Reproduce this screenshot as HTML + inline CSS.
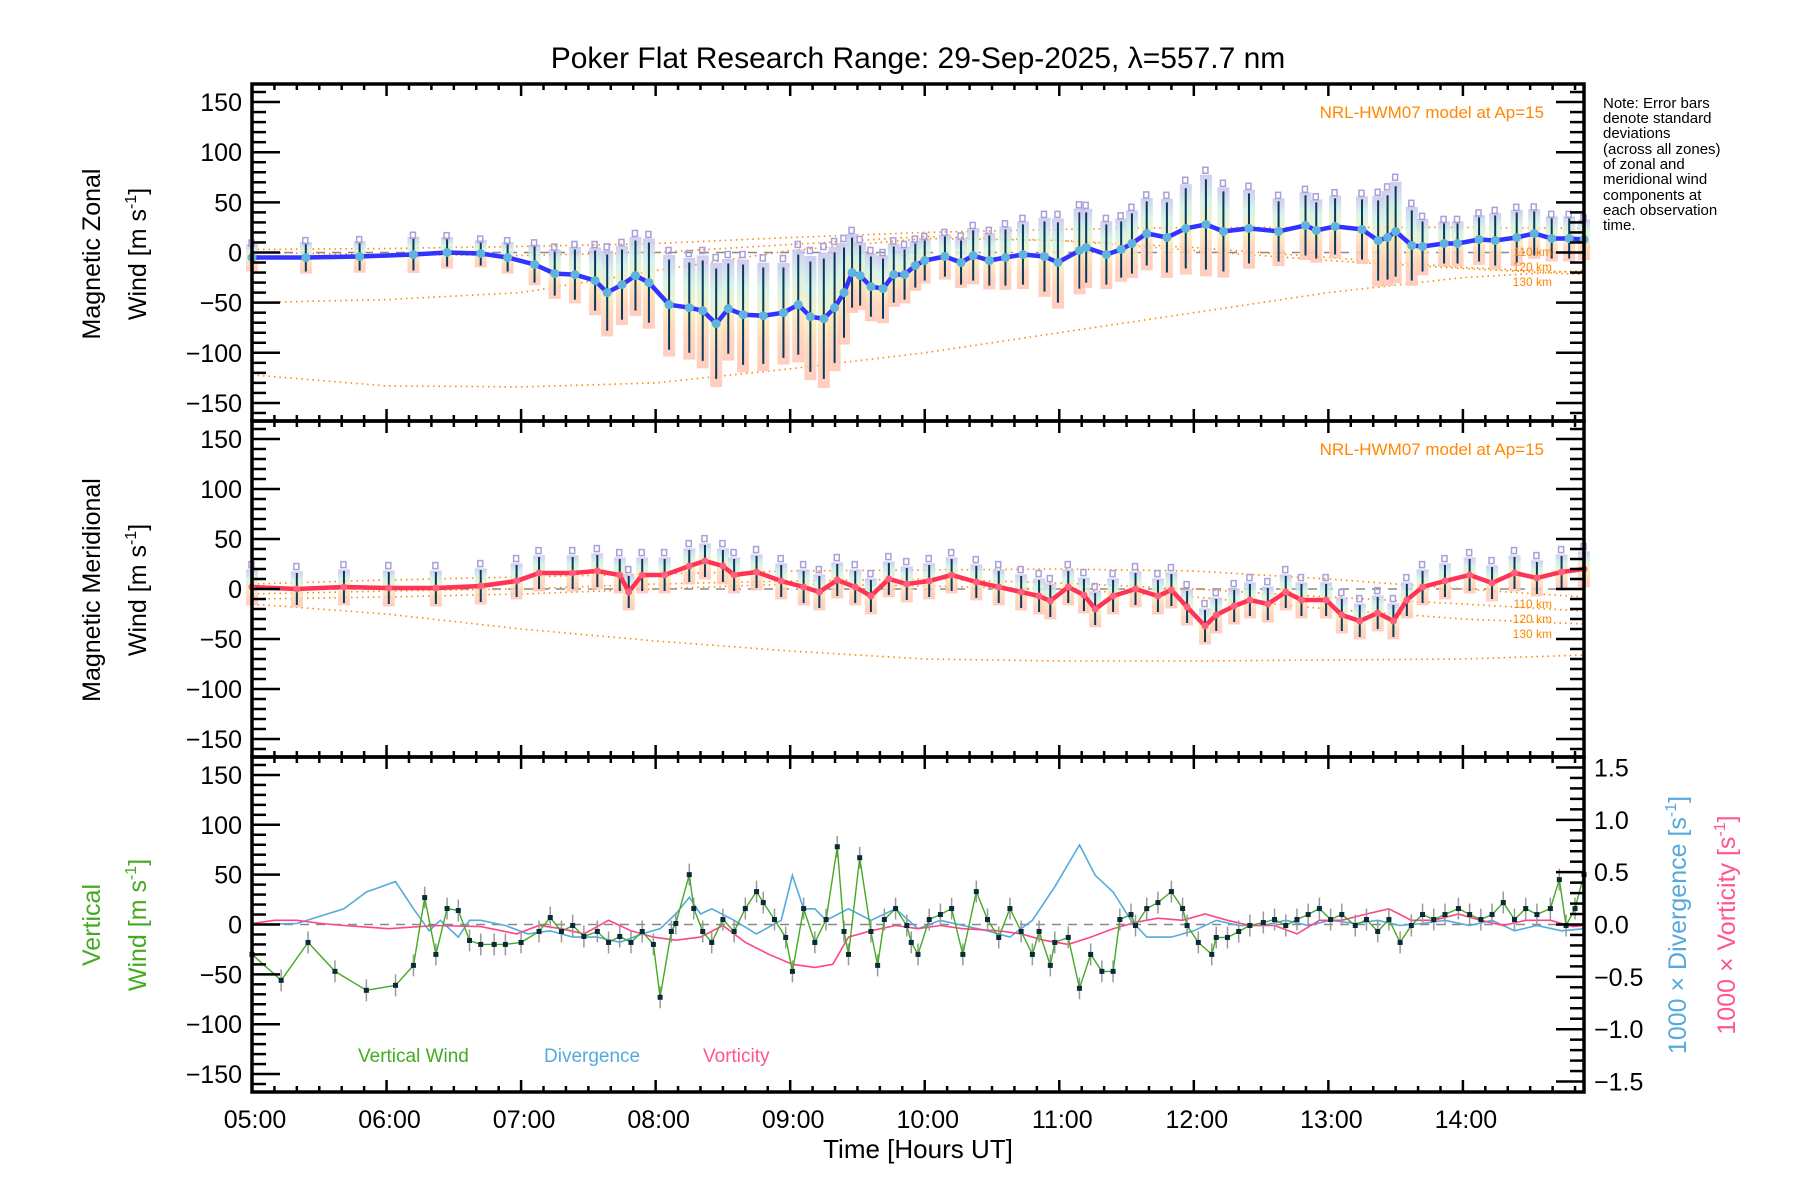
<!DOCTYPE html>
<html><head><meta charset="utf-8"><style>
html,body{margin:0;padding:0;background:#fff;}
svg{display:block;font-family:"Liberation Sans","DejaVu Sans",sans-serif;}
</style></head><body>
<svg id="chart" width="1800" height="1200" viewBox="0 0 1800 1200" xmlns="http://www.w3.org/2000/svg">
<defs>
<linearGradient id="zoneGrad" x1="0" y1="0" x2="0" y2="1">
<stop offset="0" stop-color="#c8c4ee"/><stop offset="0.25" stop-color="#d0f2e4"/><stop offset="0.5" stop-color="#f8eeb8"/><stop offset="0.75" stop-color="#ffd0b4"/><stop offset="1" stop-color="#ffc4b4"/>
</linearGradient>
</defs>
<text x="918" y="68" font-size="30" text-anchor="middle" fill="#000">Poker Flat Research Range: 29-Sep-2025, λ=557.7 nm</text>
<g id="layer"></g>
<g font-size="15" fill="#000">
<text x="1603" y="108">Note: Error bars</text>
<text x="1603" y="123">denote standard</text>
<text x="1603" y="138">deviations</text>
<text x="1603" y="154">(across all zones)</text>
<text x="1603" y="169">of zonal and</text>
<text x="1603" y="184">meridional wind</text>
<text x="1603" y="200">components at</text>
<text x="1603" y="215">each observation</text>
<text x="1603" y="230">time.</text>
</g>
<text x="918" y="1158" font-size="26" text-anchor="middle">Time [Hours UT]</text>
<text transform="translate(100,254) rotate(-90)" font-size="25" text-anchor="middle">Magnetic Zonal</text>
<text transform="translate(146,254) rotate(-90)" font-size="25" text-anchor="middle">Wind [m s<tspan font-size="16" dy="-10">-1</tspan><tspan dy="10">]</tspan></text>
<text transform="translate(100,590) rotate(-90)" font-size="25" text-anchor="middle">Magnetic Meridional</text>
<text transform="translate(146,590) rotate(-90)" font-size="25" text-anchor="middle">Wind [m s<tspan font-size="16" dy="-10">-1</tspan><tspan dy="10">]</tspan></text>
<text transform="translate(100,925) rotate(-90)" font-size="25" text-anchor="middle" fill="#44aa22">Vertical</text>
<text transform="translate(146,925) rotate(-90)" font-size="25" text-anchor="middle" fill="#44aa22">Wind [m s<tspan font-size="16" dy="-10">-1</tspan><tspan dy="10">]</tspan></text>
<text transform="translate(1686,925) rotate(-90)" font-size="25" text-anchor="middle" fill="#55aadd">1000 × Divergence [s<tspan font-size="16" dy="-10">-1</tspan><tspan dy="10">]</tspan></text>
<text transform="translate(1735,925) rotate(-90)" font-size="25" text-anchor="middle" fill="#ff5590">1000 × Vorticity [s<tspan font-size="16" dy="-10">-1</tspan><tspan dy="10">]</tspan></text>
<text x="1544" y="118" font-size="17" text-anchor="end" fill="#ff8800">NRL-HWM07 model at Ap=15</text>
<text x="1544" y="455" font-size="17" text-anchor="end" fill="#ff8800">NRL-HWM07 model at Ap=15</text>
<g font-size="12" fill="#ff8800" text-anchor="end">
<text x="1552" y="256">110 km</text>
<text x="1552" y="271">120 km</text>
<text x="1552" y="286">130 km</text>
<text x="1552" y="608">110 km</text>
<text x="1552" y="623">120 km</text>
<text x="1552" y="638">130 km</text>
</g>
<g font-size="19">
<text x="358" y="1062" fill="#44aa22">Vertical Wind</text>
<text x="544" y="1062" fill="#55aadd">Divergence</text>
<text x="703" y="1062" fill="#ff5590">Vorticity</text>
</g>
</svg>
<script>
// ---- data ----
const xTickLabels = ["05:00","06:00","07:00","08:00","09:00","10:00","11:00","12:00","13:00","14:00"];
const yTickLabels = [150,100,50,0,-50,-100,-150];
const rTickLabels = [1.5,1.0,0.5,0.0,-0.5,-1.0,-1.5];
// zonal: hours after 05:00
const zonalTime = [0,0.4,0.8,1.2,1.45,1.7,1.9,2.1,2.25,2.4,2.55,2.64,2.75,2.85,2.95,3.1,3.25,3.35,3.45,3.54,3.65,3.8,3.95,4.06,4.15,4.25,4.33,4.4,4.46,4.52,4.6,4.69,4.77,4.85,4.93,5.0,5.15,5.27,5.36,5.48,5.6,5.73,5.89,5.99,6.15,6.2,6.35,6.46,6.54,6.65,6.8,6.94,7.09,7.22,7.41,7.63,7.83,7.91,8.05,8.25,8.37,8.44,8.5,8.62,8.7,8.86,8.96,9.12,9.24,9.4,9.53,9.66,9.79,9.9];
const zonalWind = [-5,-5,-4,-2,0,-1,-5,-12,-21,-22,-28,-40,-32,-23,-30,-52,-55,-58,-71,-56,-62,-63,-60,-52,-64,-66,-55,-40,-20,-23,-34,-36,-22,-22,-13,-8,-4,-10,-3,-8,-5,-2,-4,-10,2,5,-2,3,9,19,15,24,28,21,24,21,27,22,26,23,12,15,21,7,6,9,9,13,12,15,19,14,14,13];
const zonalSd = [12,14,14,16,14,12,14,18,22,25,30,38,35,35,40,45,45,50,55,45,50,48,45,50,55,60,55,45,35,30,30,30,28,25,22,20,20,22,25,25,28,30,35,40,38,35,30,28,30,32,35,40,45,40,35,30,30,28,28,30,40,42,45,35,25,20,20,22,25,25,22,20,20,18];
// meridional: minutes after 05:00
const meridTime = [0,20,41,61,82,102,118,128,143,154,164,168,174,184,195,202,210,215,225,236,246,253,261,269,276,284,292,302,312,323,333,343,351,356,364,371,376,384,394,404,410,417,425,430,438,445,453,461,468,479,486,494,502,509,515,522,532,543,553,563,573,584,594];
const meridWind = [2,0,2,1,1,3,8,16,16,18,14,-3,14,14,23,28,23,14,17,8,2,-3,9,2,-7,10,5,8,14,7,2,-3,-7,-12,2,-6,-20,-7,0,-7,-1,-18,-37,-26,-17,-11,-15,-3,-11,-11,-26,-32,-24,-32,-11,2,8,14,6,16,11,17,20];
const meridSd = 16;
// model curves (hours, value)
const modelTime = [0,1,2,3,4,5,6,7,8,9,9.9];
const zonalModel110 = [3,4,6,9,15,20,23,25,25,25,24];
const zonalModel120 = [0,-2,-3,0,8,16,12,5,-5,-15,-20];
const zonalModel130 = [-50,-47,-40,-18,2,14,12,2,-8,-16,-22];
const zonalModelLow = [-122,-133,-134,-130,-116,-100,-80,-60,-40,-25,-18];
const meridModel110 = [5,9,12,15,18,19,20,18,10,0,-8];
const meridModel120 = [-5,-2,0,5,8,10,6,0,-8,-15,-22];
const meridModel130 = [-10,-8,-5,0,5,3,0,-8,-20,-30,-35];
const meridModelLow = [-15,-25,-40,-52,-62,-70,-72,-72,-71,-70,-66];
// vertical wind: minutes after 05:00
const vertTime = [0,13,25,37,51,64,72,77,82,87,92,97,102,108,113,120,128,133,138,143,148,154,159,164,169,174,179,182,187,189,195,197,201,205,210,215,220,225,228,233,238,241,246,251,256,261,264,266,271,276,279,282,287,292,294,297,302,307,312,317,323,328,333,338,343,348,351,356,358,364,369,374,379,384,387,392,394,399,404,410,415,417,422,428,430,435,440,445,451,456,461,466,471,476,481,486,492,497,502,507,512,517,522,527,532,538,543,548,553,558,563,568,573,579,583,586,590,594];
const vertWind = [-30,-56,-18,-47,-66,-61,-41,27,-30,16,14,-16,-20,-20,-20,-18,-7,7,-7,-1,-12,-7,-18,-12,-18,-7,-20,-73,-7,1,50,16,-7,-18,5,-7,16,33,22,5,-13,-47,16,-18,5,78,-7,-30,67,-7,-41,5,16,-1,-18,-30,5,10,16,-30,33,5,-13,16,-7,-30,-7,-41,-18,-13,-64,-30,-47,-47,5,10,-1,16,22,33,16,-1,-18,-30,-13,-13,-7,-1,2,5,-1,5,10,16,5,10,-1,5,-7,5,-18,-1,10,5,10,16,10,5,10,22,5,16,10,16,45,-1,16,50];
const vertErr = 11;
const divTime = [0,20,41,51,64,72,79,84,92,97,102,113,123,133,143,154,164,174,182,189,195,200,205,215,225,236,241,246,251,256,266,276,287,297,307,317,328,338,348,358,369,376,384,392,399,410,420,430,440,451,461,471,481,492,502,512,522,532,543,553,563,573,584,594];
const divergence = [0,0.01,0.15,0.31,0.41,0.15,-0.06,0.04,-0.12,0.04,0.04,-0.01,-0.09,-0.06,-0.12,-0.12,-0.17,-0.09,-0.04,0.1,0.26,0.1,0.15,0.04,-0.09,0.04,0.47,0.15,0.15,0.04,0.15,0.04,0.15,-0.04,0.04,-0.01,-0.06,-0.12,0.04,0.36,0.76,0.47,0.31,0.04,-0.12,-0.12,-0.06,0.04,-0.01,-0.01,0.04,-0.01,0.04,0.01,0.04,-0.01,0.01,0.04,-0.01,0.04,-0.06,-0.01,-0.06,-0.04];
const vortTime = [0,10,20,31,41,61,82,102,118,128,138,148,159,169,179,189,200,210,220,230,241,251,259,266,276,287,297,307,317,333,343,353,364,374,384,394,404,415,425,435,445,456,466,476,486,497,507,517,527,538,548,558,568,579,589,594];
const vorticity = [0.01,0.04,0.04,0.01,-0.01,-0.04,-0.01,-0.02,-0.09,-0.01,-0.04,-0.09,0.04,-0.06,-0.12,-0.15,-0.12,-0.01,-0.17,-0.28,-0.38,-0.41,-0.38,-0.12,-0.06,-0.01,-0.04,-0.01,-0.04,-0.06,-0.09,-0.15,-0.19,-0.12,-0.04,0.02,0.06,0.04,0.1,0.04,-0.01,-0.01,-0.09,0.04,0.04,0.1,0.15,0.04,0.04,0.1,0.04,-0.01,0.04,0.04,-0.02,-0.01];

// ---- layout ----
const NS = "http://www.w3.org/2000/svg";
const L = 252, R = 1584;
const panels = [{top:84,bot:421},{top:421,bot:757},{top:757,bot:1092}];
const layer = document.getElementById('layer');
function xH(h){ return L + h/9.9*(R-L); }
function xM(m){ return xH(m/60); }
function yP(p, v){ const P = panels[p]; const c=(P.top+P.bot)/2; return c - v*(P.bot-P.top)/336; }
function yR(v){ return yP(2, v*105); }
function mk(tag, attrs, parent){ const e=document.createElementNS(NS,tag); for(const k in attrs) e.setAttribute(k,attrs[k]); (parent||layer).appendChild(e); return e; }
function path(xs, ys, attrs, name){
  let d=''; for(let i=0;i<xs.length;i++) d += (i?'L':'M')+xs[i].toFixed(1)+' '+ys[i].toFixed(1);
  const e = mk('path', Object.assign({d:d, fill:'none'}, attrs));
  
  
  return e;
}

for (let p=0;p<3;p++){
  const z = mk('line',{x1:L,x2:R,y1:yP(p,0),y2:yP(p,0),stroke:'#888','stroke-width':1.5,'stroke-dasharray':'9,7'});
  
  
}

const mStyle = {stroke:'#ff8800','stroke-width':1.6,'stroke-dasharray':'1.5,4'};
[zonalModel110,zonalModel120,zonalModel130,zonalModelLow].forEach(arr=>{
  path(modelTime.map(xH), arr.map(v=>yP(0,v)), mStyle, 'zonal-model-curve');
});
[meridModel110,meridModel120,meridModel130,meridModelLow].forEach(arr=>{
  path(modelTime.map(xH), arr.map(v=>yP(1,v)), mStyle, 'meridional-model-curve');
});

for (let i=0;i<zonalTime.length;i++){
  const x=xH(zonalTime[i]), v=zonalWind[i], s=zonalSd[i];
  const r = mk('rect',{x:x-6,y:yP(0,v+s*1.1),width:12,height:yP(0,v-s*1.15)-yP(0,v+s*1.1),fill:'url(#zoneGrad)',opacity:0.85});
  
  
  const l = mk('line',{x1:x,x2:x,y1:yP(0,v+s),y2:yP(0,v-s),stroke:'#0a3a5a','stroke-width':2});
  
  
  const q = mk('rect',{x:x-3,y:yP(0,v+s*1.2)-3,width:5,height:6,fill:'none',stroke:'#a8a0d8','stroke-width':1.5});
  
  
}
path(zonalTime.map(xH), zonalWind.map(v=>yP(0,v)), {stroke:'#3333ff','stroke-width':4.5}, 'zonal-wind-line');
for (let i=0;i<zonalTime.length;i++){
  const c = mk('circle',{cx:xH(zonalTime[i]),cy:yP(0,zonalWind[i]),r:4.5,fill:'#5fb3df'});
  
  
}

for (let i=0;i<meridTime.length;i++){
  const x=xM(meridTime[i]), v=meridWind[i], s=meridSd;
  const r = mk('rect',{x:x-6,y:yP(1,v+s*1.1),width:12,height:yP(1,v-s*1.15)-yP(1,v+s*1.1),fill:'url(#zoneGrad)',opacity:0.85});
  
  
  const l = mk('line',{x1:x,x2:x,y1:yP(1,v+s),y2:yP(1,v-s),stroke:'#0a3a5a','stroke-width':2});
  
  
  const q = mk('rect',{x:x-3,y:yP(1,v+s*1.4)-3,width:5,height:6,fill:'none',stroke:'#a8a0d8','stroke-width':1.5});
  
  
}
path(meridTime.map(xM), meridWind.map(v=>yP(1,v)), {stroke:'#ff3355','stroke-width':4.5}, 'meridional-wind-line');
for (let i=0;i<meridTime.length;i++){
  const c = mk('circle',{cx:xM(meridTime[i]),cy:yP(1,meridWind[i]),r:3.5,fill:'#ff6080'});
  
  
}

path(divTime.map(xM), divergence.map(yR), {stroke:'#55aadd','stroke-width':1.6}, 'divergence-line');
path(vortTime.map(xM), vorticity.map(yR), {stroke:'#ff4488','stroke-width':1.6}, 'vorticity-line');
for (let i=0;i<vertTime.length;i++){
  const x=xM(vertTime[i]), v=vertWind[i];
  const l = mk('line',{x1:x,x2:x,y1:yP(2,v+vertErr),y2:yP(2,v-vertErr),stroke:'#999','stroke-width':1.5});
  
  
}
path(vertTime.map(xM), vertWind.map(v=>yP(2,v)), {stroke:'#44aa22','stroke-width':1.4}, 'vertical-wind-line');
for (let i=0;i<vertTime.length;i++){
  const c = mk('rect',{x:xM(vertTime[i])-2.5,y:yP(2,vertWind[i])-2.5,width:5,height:5,fill:'#0a2a3a'});
  
  
}

for (let p=0;p<3;p++){
  const P=panels[p];
  const box = mk('rect',{x:L,y:P.top,width:R-L,height:P.bot-P.top,fill:'none',stroke:'#000','stroke-width':3.5});
  
  
  for (let v=-160; v<=160; v+=10){
    const y=yP(p,v); if (y<P.top+2||y>P.bot-2) continue;
    const len = (v%50===0)?28:14;
    mk('line',{x1:L,x2:L+len,y1:y,y2:y,stroke:'#000','stroke-width':2.5});
    if (p<2) mk('line',{x1:R,x2:R-len,y1:y,y2:y,stroke:'#000','stroke-width':2.5});
  }
  yTickLabels.forEach(v=>{
    const t = mk('text',{x:L-10,y:yP(p,v)+9,'font-size':25,'text-anchor':'end'});
    t.textContent = (v<0?'\u2212'+(-v):String(v));
    
    
  });
  for (let m=0; m<=594; m+=10){
    const x=xM(m); const len=(m%60===0)?12:6;
    mk('line',{x1:x,x2:x,y1:P.bot,y2:P.bot-len,stroke:'#000','stroke-width':2.5});
    mk('line',{x1:x,x2:x,y1:P.top,y2:P.top+len,stroke:'#000','stroke-width':2.5});
  }
}
for (let k=-16;k<=16;k++){
  const v=k/10, y=yR(v); if (y<panels[2].top+2||y>panels[2].bot-2) continue;
  const len=(k%5===0)?28:14;
  mk('line',{x1:R,x2:R-len,y1:y,y2:y,stroke:'#000','stroke-width':2.5});
}
rTickLabels.forEach(v=>{
  const t = mk('text',{x:R+10,y:yR(v)+9,'font-size':25});
  t.textContent = (v<0?'\u2212':'')+Math.abs(v).toFixed(1);
  
  
});
xTickLabels.forEach((s,i)=>{
  const t = mk('text',{x:xH(i)+3,y:1128,'font-size':25,'text-anchor':'middle'});
  t.textContent = s;
  
  
});
</script>
</body></html>
